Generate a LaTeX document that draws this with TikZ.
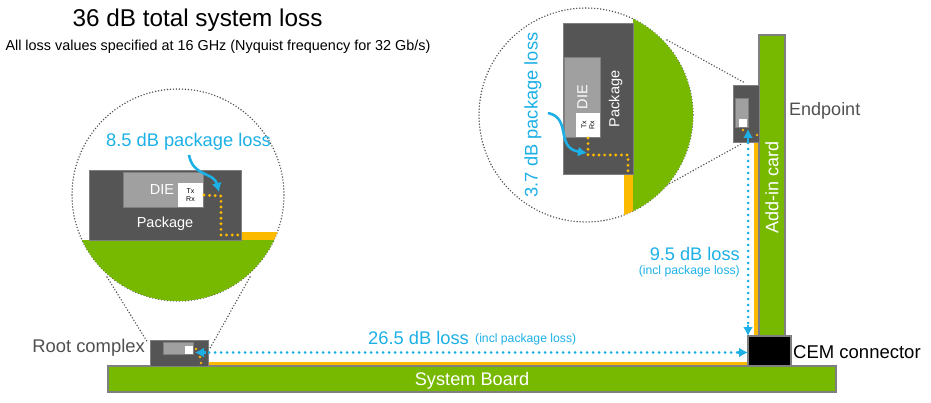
\documentclass[tikz,border=0pt]{standalone}
\usepackage{fontspec}
\setmainfont{Liberation Sans}
\usetikzlibrary{arrows.meta}
\definecolor{boardgreen}{HTML}{76B900}
\definecolor{edgegray}{HTML}{7F7F7F}
\definecolor{pkggray}{HTML}{555555}
\definecolor{diegray}{HTML}{A0A0A0}
\definecolor{traceyellow}{HTML}{FBB900}
\definecolor{lossblue}{HTML}{1CB0E6}
\definecolor{labelgray}{HTML}{505050}
\newcommand{\fs}[1]{\fontsize{#1}{#1}\selectfont}
\tikzset{
    board/.style={fill=boardgreen, draw=edgegray, line width=1.2pt},
    pkg/.style={fill=pkggray, draw=edgegray, line width=0.8pt},
    die/.style={fill=diegray, draw=edgegray, line width=0.6pt},
    txrx/.style={fill=white, draw=none},
    trace/.style={fill=traceyellow, draw=none},
    lens/.style={draw=labelgray, line width=1.6pt, line cap=round, dash pattern=on 0pt off 3pt},
    pathdots/.style={draw=traceyellow, line width=3.2pt, line cap=round, dash pattern=on 0pt off 5.6pt},
    lossdots/.style={draw=lossblue, line width=3pt, line cap=round, dash pattern=on 0pt off 6pt},
    losshead/.style={draw=lossblue, line width=2.6pt, -{Latex[length=9pt,width=10pt]}},
    lossnote/.style={text=lossblue, inner sep=0pt},
    greylabel/.style={text=labelgray, inner sep=0pt},
    txrxlabel/.style={text=black, inner sep=0pt, align=center, font=\fs{7}}
}
\begin{document}
\begin{tikzpicture}[x=1pt,y=-1pt]
    \useasboundingbox (0,0) rectangle (931,403);

    % Title
    \node[inner sep=0pt] (title) at (197.5,20) {\fs{24.3}36 dB total system loss};
    \node[inner sep=0pt] (subtitle) at (218,47) {\fs{14.4}All loss values specified at 16 GHz (Nyquist frequency for 32 Gb/s)};

    % Lines from the root complex to its lens
    \coordinate (rootlensl) at (107,277);
    \coordinate (rootlensr) at (250,277);
    \coordinate (rootpkgl) at (148,343);
    \coordinate (rootpkgr) at (209,350);
    \draw[lens] (rootlensl) -- (rootpkgl);
    \draw[lens] (rootlensr) -- (rootpkgr);

    % Lines from the endpoint to its lens
    \coordinate (endlenst) at (667,40);
    \coordinate (endlensb) at (667,185);
    \coordinate (endpkgt) at (745,83);
    \coordinate (endpkgb) at (743,143);
    \draw[lens] (endlenst) -- (endpkgt);
    \draw[lens] (endlensb) -- (endpkgb);

    % System board and add-in card
    \fill[trace] (205,362) rectangle (748,366);
    \fill[trace] (754,140) rectangle (759,336);
    \draw[board] (108,366) rectangle (836,392);
    \draw[board] (759,35) rectangle (785,336);
    \draw[fill=black, draw=edgegray, line width=1.2pt] (748,336) rectangle (791,366);
    \node[text=white, inner sep=0pt] (sysboard) at (472,380.5) {\fs{18.2}System Board};
    \node[text=white, inner sep=0pt, rotate=90] (addin) at (772,187) {\fs{18}Add-in card};

    % Root complex
    \draw[pkg] (150,340) rectangle (208,366);
    \draw[die] (163,342) rectangle (193,354);
    \fill[txrx] (185,346) rectangle (193,354);
    \fill[traceyellow] (196,349) circle (1.3) (200,357) circle (1.3) (201,363) circle (1.3);
    \node[greylabel, anchor=east] (rootlabel) at (145,348) {\fs{18.4}Root complex};

    % Endpoint
    \draw[pkg] (733,85) rectangle (759,142);
    \draw[die] (735,98) rectangle (748,127);
    \fill[txrx] (739,119) rectangle (747,127);
    \fill[traceyellow] (743,130) circle (1.3) (757,135) circle (1.3) (750,136) circle (1.3);
    \node[greylabel, anchor=west] (endlabel) at (789,111) {\fs{18}Endpoint};
    \node[inner sep=0pt, anchor=west] (cemlabel) at (793,352.5) {\fs{18.5}CEM connector};

    % Root complex lens
    \draw[lens] (178,195) circle (106);
    \begin{scope}
        \clip (178,195) circle (106);
        \fill[boardgreen] (60,240) rectangle (300,310);
        \fill[trace] (241,232) rectangle (290,240);
    \end{scope}
    \fill[pkggray, draw=edgegray, line width=0.8pt] (89,170) rectangle (241,240);
    \draw[die] (123,172) rectangle (203,207);
    \fill[txrx] (178,183) rectangle (203,207);
    \node[text=white, inner sep=0pt] (rootdie) at (162,189.5) {\fs{14.5}DIE};
    \node[txrxlabel] (roottx) at (190.5,195.5) {Tx\\[1pt]Rx};
    \node[text=white, inner sep=0pt] (rootpack) at (165,223.5) {\fs{14.5}Package};
    \coordinate (rootdots0) at (204,195);
    \coordinate (rootdots1) at (221,196);
    \coordinate (rootdots2) at (221,235);
    \coordinate (rootdots3) at (241,235);
    \draw[pathdots] (rootdots0) -- (rootdots1) -- (rootdots2) -- (rootdots3);
    \node[lossnote] (rootnote) at (188.5,141.5) {\fs{18.3}8.5 dB package loss};
    \coordinate (rootcurve0) at (189,155);
    \coordinate (rootcurve1) at (219,192);
    \draw[losshead] (rootcurve0) .. controls (193,177) and (214,172) .. (rootcurve1);

    % Endpoint lens
    \draw[lens] (586,115) circle (107);
    \begin{scope}
        \clip (586,115) circle (107);
        \fill[boardgreen] (633,0) rectangle (700,230);
        \fill[trace] (624,174) rectangle (633,230);
    \end{scope}
    \fill[pkggray, draw=edgegray, line width=0.8pt] (563,23) rectangle (633,174);
    \draw[die] (564,57) rectangle (600,137);
    \fill[txrx] (576,113) rectangle (600,137);
    \node[text=white, inner sep=0pt, rotate=90] (enddie) at (582.5,97) {\fs{14.5}DIE};
    \node[txrxlabel, rotate=90] (endtx) at (588,125) {Tx\\[1pt]Rx};
    \node[text=white, inner sep=0pt, rotate=90] (endpack) at (615.5,99) {\fs{14.5}Package};
    \coordinate (enddots0) at (588,138);
    \coordinate (enddots1) at (588,155);
    \coordinate (enddots2) at (628,155);
    \coordinate (enddots3) at (628,174);
    \draw[pathdots] (enddots0) -- (enddots1) -- (enddots2) -- (enddots3);
    \node[lossnote, rotate=90] (endnote) at (533,115) {\fs{18.3}3.7 dB package loss};
    \coordinate (endcurve0) at (548,113);
    \coordinate (endcurve1) at (587,153);
    \draw[losshead] (endcurve0) .. controls (572,118) and (555,148) .. (endcurve1);

    % Loss paths
    \coordinate (hroot) at (209,352.5);
    \coordinate (hcem) at (741,352.5);
    \coordinate (vend) at (748,143);
    \coordinate (vcem) at (748,328);
    \draw[lossdots] (hroot) -- (hcem);
    \draw[lossdots] (vend) -- (vcem);
    \coordinate (hcemtail) at (738,352.5);
    \coordinate (hcemtip) at (748,352.5);
    \coordinate (vcemtail) at (748,325);
    \coordinate (vcemtip) at (748,336);
    \coordinate (hroottail) at (206,352.5);
    \coordinate (hroottip) at (195,352.5);
    \coordinate (vendtail) at (748,142);
    \coordinate (vendtip) at (748,129);
    \draw[losshead] (hcemtail) -- (hcemtip);
    \draw[losshead] (vcemtail) -- (vcemtip);
    \draw[losshead] (hroottail) -- (hroottip);
    \draw[losshead] (vendtail) -- (vendtip);

    % Loss labels
    \node[lossnote, anchor=west] (hloss) at (368,338) {\fs{18.3}26.5 dB loss};
    \node[lossnote, anchor=west] (hincl) at (475,339.5) {\fs{12.2}(incl package loss)};
    \node[lossnote, anchor=east] (vloss) at (740,253.5) {\fs{18.2}9.5 dB loss};
    \node[lossnote, anchor=east] (vincl) at (740,271.5) {\fs{12.2}(incl package loss)};
\end{tikzpicture}
\end{document}
